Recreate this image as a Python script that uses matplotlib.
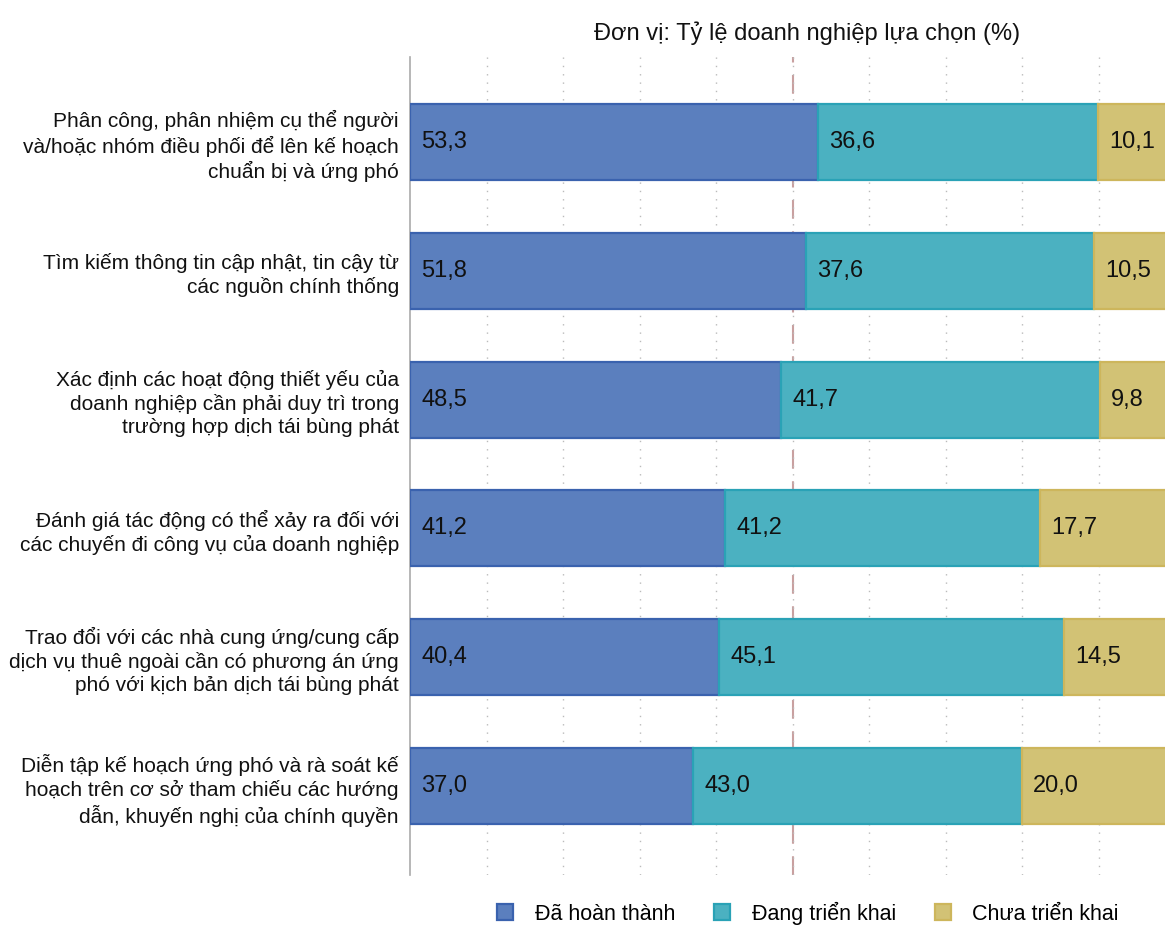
#!/usr/bin/env python3
"""Stacked horizontal bars: share of firms by preparation status."""

import matplotlib.pyplot as plt
from matplotlib.patches import Patch

FONT_FAMILY = ["Liberation Sans", "DejaVu Sans"]
DONE_COLOR = "#5B7FBE"
DONE_EDGE = "#3A62AE"
ONGOING_COLOR = "#4BB1C1"
ONGOING_EDGE = "#2AA2B6"
TODO_COLOR = "#D2C275"
TODO_EDGE = "#CDB65C"

categories = [
    "Phân công, phân nhiệm cụ thể người\nvà/hoặc nhóm điều phối để lên kế hoạch\nchuẩn bị và ứng phó",
    "Tìm kiếm thông tin cập nhật, tin cậy từ\ncác nguồn chính thống",
    "Xác định các hoạt động thiết yếu của\ndoanh nghiệp cần phải duy trì trong\ntrường hợp dịch tái bùng phát",
    "Đánh giá tác động có thể xảy ra đối với\ncác chuyến đi công vụ của doanh nghiệp",
    "Trao đổi với các nhà cung ứng/cung cấp\ndịch vụ thuê ngoài cần có phương án ứng\nphó với kịch bản dịch tái bùng phát",
    "Diễn tập kế hoạch ứng phó và rà soát kế\nhoạch trên cơ sở tham chiếu các hướng\ndẫn, khuyến nghị của chính quyền",
]
done = [53.3, 51.8, 48.5, 41.2, 40.4, 37.0]
ongoing = [36.6, 37.6, 41.7, 41.2, 45.1, 43.0]
not_started = [10.1, 10.5, 9.8, 17.7, 14.5, 20.0]
series_names = ["Đã hoàn thành", "Đang triển khai", "Chưa triển khai"]


def main():
    plt.rcParams["font.family"] = FONT_FAMILY
    fig = plt.figure(figsize=(11.65, 9.25), dpi=100)
    ax = fig.add_axes([410 / 1165, 1 - 875 / 925, 765 / 1165, 818 / 925])

    ypos = list(range(len(categories)))
    series = [
        (done, DONE_COLOR, DONE_EDGE),
        (ongoing, ONGOING_COLOR, ONGOING_EDGE),
        (not_started, TODO_COLOR, TODO_EDGE),
    ]
    left = [0.0] * len(categories)
    for values, color, edge in series:
        ax.barh(ypos, values, left=left, height=0.59, color=color,
                edgecolor=edge, linewidth=1.6, zorder=3)
        for y, start, v in zip(ypos, left, values):
            ax.text(start + 1.45, y, f"{v:.1f}".replace(".", ","),
                    ha="left", va="center", fontsize=17, color="#111111", zorder=4)
        left = [a + b for a, b in zip(left, values)]

    ax.set_xlim(0, 100)
    ax.set_ylim(5.69, -0.66)
    ax.set_xticks(range(10, 100, 10))
    ax.tick_params(axis="x", length=0, labelbottom=False)
    ax.tick_params(axis="y", length=0, pad=8)
    ax.set_yticks(ypos)
    ax.set_yticklabels(categories, fontsize=15, linespacing=1.25, color="#111111")
    ax.grid(axis="x", linestyle=(0, (1, 5)), color="#BBBBBB", linewidth=1.0, zorder=0)
    ax.axvline(50, color="#C9A0A0", linestyle=(0, (9, 6)), linewidth=1.5, zorder=1)
    for side in ("top", "right", "bottom"):
        ax.spines[side].set_visible(False)
    ax.spines["left"].set_color("#AAAAAA")
    ax.spines["left"].set_linewidth(1.2)

    fig.text(807 / 1165, 1 - 33 / 925, "Đơn vị: Tỷ lệ doanh nghiệp lựa chọn (%)",
             ha="center", va="center", fontsize=17, color="#111111")

    handles = [Patch(facecolor=c, edgecolor=e, linewidth=1.6)
               for _, c, e in series]
    fig.legend(handles, series_names, loc="center", ncol=3, frameon=False,
               bbox_to_anchor=(808 / 1165, 1 - 913 / 925), fontsize=15.5,
               handlelength=0.75, handleheight=0.75, columnspacing=1.8, handletextpad=1.0)

    fig.savefig("out.png", dpi=100)
    plt.close(fig)


if __name__ == "__main__":
    main()
